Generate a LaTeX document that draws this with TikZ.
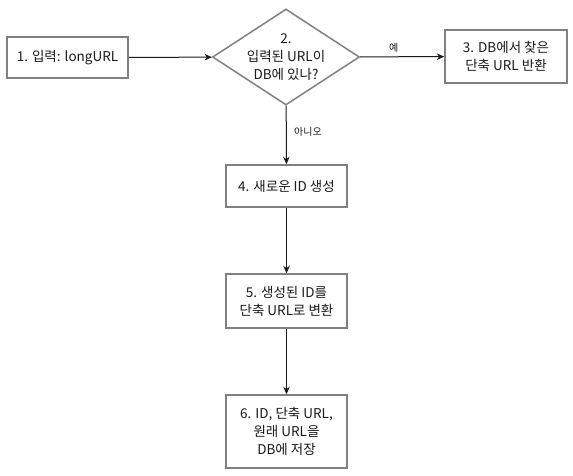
\documentclass[tikz,border=0pt]{standalone}
\usepackage{fontspec}
\setmainfont{Noto Sans CJK KR}
\usepackage{xcolor}
\usetikzlibrary{arrows.meta, shapes.geometric}
\definecolor{frame}{HTML}{808080}
\definecolor{ink}{HTML}{1A1A1A}

\begin{document}
\begin{tikzpicture}[x=1pt, y=-1pt, >={Stealth[length=7.5pt, width=6.5pt]},
  stepbox/.style={draw=frame, line width=1.5pt, fill=white, align=center, inner sep=0pt,
                  font=\fontsize{13.5}{18}\selectfont, text=ink},
  flow/.style={->, line width=1pt, color=ink},
  tag/.style={font=\fontsize{10}{12}\selectfont, text=ink}]
\useasboundingbox (0,0) rectangle (573,475);
\node[stepbox, minimum width=121pt, minimum height=41pt] (input) at (67.5,57.5) {1. 입력: longURL};
\node[draw=frame, line width=1.5pt, shape=diamond, inner sep=0pt, minimum width=147pt,
      minimum height=96pt, aspect=1.53] (check) at (286,57) {};
\node[align=center, font=\fontsize{13.5}{18}\selectfont, text=ink] (checktext) at (check.center)
  {2.\\입력된 URL이\\DB에 있나?};
\node[stepbox, minimum width=122pt, minimum height=53pt] (found) at (506,56.5)
  {3. DB에서 찾은\\단축 URL 반환};
\node[stepbox, minimum width=121pt, minimum height=42pt] (newid) at (286.5,186) {4. 새로운 ID 생성};
\node[stepbox, minimum width=121pt, minimum height=54pt] (convert) at (286.5,301)
  {5. 생성된 ID를\\단축 URL로 변환};
\node[stepbox, minimum width=121pt, minimum height=73pt] (store) at (286.5,431.5)
  {6. ID, 단축 URL,\\원래 URL을\\DB에 저장};
\draw[flow] (input) -- (check);
\draw[flow] (check) -- node[tag, above, pos=0.4, yshift=1pt]{예} (found);
\draw[flow] (check) -- node[tag, right, pos=0.45, xshift=4pt]{아니오} (newid);
\draw[flow] (newid) -- (convert);
\draw[flow] (convert) -- (store);
\end{tikzpicture}
\end{document}
